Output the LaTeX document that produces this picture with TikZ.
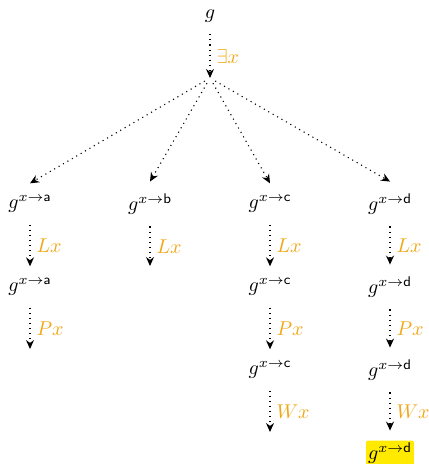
\documentclass[tikz,border=0pt]{standalone}
\usepackage{amsmath,amssymb}
\usepackage{xcolor}
\usepackage{tikz}
\usetikzlibrary{
  arrows.meta,
  positioning
}
\definecolor{ruleorange}{RGB}{240,168,24}
\definecolor{goalyellow}{RGB}{255,234,0}
\tikzset{
  state/.style={inner sep=1pt,outer ysep=5pt,font=\normalsize},
  goal/.style={state,fill=goalyellow,rounded corners=1pt},
  move/.style={-{Stealth[length=4.5pt,width=4pt]},dotted,line width=0.55pt,draw=black},
  rulelab/.style={font=\normalsize,text=ruleorange,inner sep=3pt}
}
\newcommand{\asg}[1]{g^{x\to\mathsf{#1}}}

\begin{document}
\begin{tikzpicture}[x=0.5pt,y=-0.5pt]
  \useasboundingbox (0,0) rectangle (428,464);
  \node[state] (root) at (210,16) {$g$};
  \coordinate (split) at (210,78);
  \draw[move] (root)--node[rulelab,right]{$\exists x$}(split);
  % first level
  \node[state] (a1) at (30,204) {$\asg{a}$};
  \node[state] (b1) at (150,204) {$\asg{b}$};
  \node[state] (c1) at (270,204) {$\asg{c}$};
  \node[state] (d1) at (390,204) {$\asg{d}$};
  \foreach \kid in {a1,b1,c1,d1}
    \draw[move,shorten <=3pt] (split)--(\kid.north);
  % second level
  \node[state] (a2) at (30,287) {$\asg{a}$};
  \coordinate (bend) at (150,266);
  \node[state] (c2) at (270,287) {$\asg{c}$};
  \node[state] (d2) at (390,287) {$\asg{d}$};
  \draw[move] (a1)--node[rulelab,right]{$Lx$}(a2);
  \draw[move] (b1)--node[rulelab,right]{$Lx$}(bend);
  \draw[move] (c1)--node[rulelab,right]{$Lx$}(c2);
  \draw[move] (d1)--node[rulelab,right]{$Lx$}(d2);
  % third level
  \coordinate (aend) at (30,349);
  \node[state] (c3) at (270,370) {$\asg{c}$};
  \node[state] (d3) at (390,370) {$\asg{d}$};
  \draw[move] (a2)--node[rulelab,right]{$Px$}(aend);
  \draw[move] (c2)--node[rulelab,right]{$Px$}(c3);
  \draw[move] (d2)--node[rulelab,right]{$Px$}(d3);
  % last level
  \coordinate (cend) at (270,432);
  \node[goal] (d4) at (390,453) {$\asg{d}$};
  \draw[move] (c3)--node[rulelab,right]{$Wx$}(cend);
  \draw[move] (d3)--node[rulelab,right]{$Wx$}(d4);
\end{tikzpicture}
\end{document}
